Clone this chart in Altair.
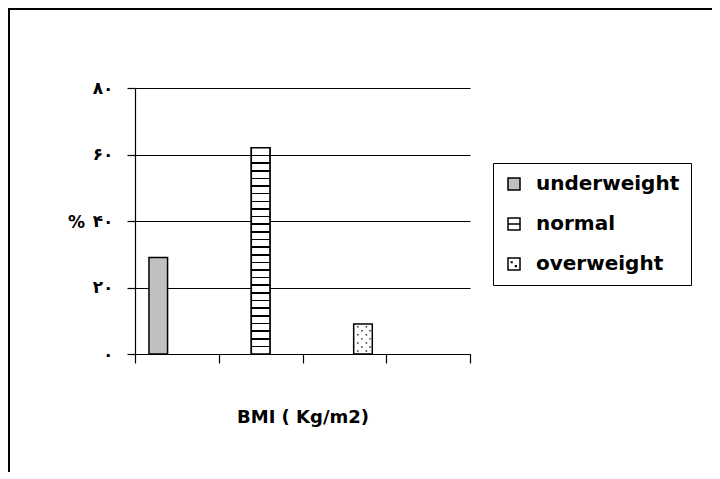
import altair as alt
import pandas as pd

# ---- data ----
categories = ["1", "2", "3", "4"]
series = ["underweight", "normal", "overweight"]
bar_category = ["1", "2", "3"]
bar_series = ["underweight", "normal", "overweight"]
bar_values = [29, 62, 9]
y_ticks = [0, 20, 40, 60, 80]
y_tick_labels = ["۰", "۲۰", "۴۰", "۶۰", "۸۰"]
x_title = "BMI ( Kg/m2)"
y_title = "%"

fills = ["#c0c0c0", "#ffffff", "#ffffff"]
legend_shapes = [
    "square",
    "M-1,-1H1V1H-1ZM-1,0H1",
    "M-1,-1H1V1H-1ZM-0.45,-0.35h0.12v0.12h-0.12ZM0.25,0.3h0.12v0.12h-0.12Z",
]

df = pd.DataFrame({"category": bar_category, "series": bar_series, "value": bar_values})

FONT = "DejaVu Sans"

label_expr = "[" + ",".join("'%s'" % s for s in y_tick_labels) + "][indexof(" + str(y_ticks) + ", datum.value)]"

x_axis = alt.Axis(
    labels=False, title=x_title, tickBand="extent", ticks=True, tickSize=9,
    tickColor="black", tickWidth=1.2, domainColor="black", domainWidth=1.2, grid=False,
    titleY=63, titleBaseline="middle", titleFont=FONT, titleFontSize=18,
    titleFontWeight="bold", titleColor="black",
)
y_axis = alt.Axis(
    values=y_ticks, labelExpr=label_expr, grid=True, gridColor="black", gridWidth=1.2,
    tickSize=8, tickColor="black", tickWidth=1.2, domainColor="black", domainWidth=1.2,
    labelPadding=14, labelFont=FONT, labelFontSize=17, labelFontWeight="bold",
    labelColor="black", title=y_title, titleAngle=0, titleX=-59, titleY=134,
    titleBaseline="middle", titleAlign="center", titleFont=FONT, titleFontSize=17,
    titleFontWeight="bold", titleColor="black",
)
x_scale = alt.Scale(domain=categories, paddingInner=0, paddingOuter=0)
xoff_scale = alt.Scale(domain=series, paddingInner=0, paddingOuter=0.75)
y_scale = alt.Scale(domain=[0, 80], nice=False)


def enc(yfield="value:Q"):
    return dict(
        x=alt.X("category:N", scale=x_scale, axis=x_axis),
        xOffset=alt.XOffset("series:N", scale=xoff_scale),
        y=alt.Y(yfield, scale=y_scale, axis=y_axis),
    )


leg = dict(
    orient="none", legendX=358, legendY=75, title=None, labelFont=FONT, labelFontSize=20,
    labelFontWeight="bold", labelColor="black", symbolSize=144,
    symbolStrokeWidth=1.5, strokeColor="black", padding=11, rowPadding=20,
    labelOffset=12, fillColor="white",
)

# legend carrier: small points hidden inside the bars, legend shows fill + shape
legend_pts = alt.Chart().mark_point(
    filled=True, size=1, opacity=1, strokeWidth=1.5,
).encode(
    fill=alt.Fill("series:N", scale=alt.Scale(domain=series, range=fills), legend=alt.Legend(**leg)),
    shape=alt.Shape("series:N", scale=alt.Scale(domain=series, range=legend_shapes), legend=alt.Legend(**leg)),
    stroke=alt.value("black"),
    **enc("mid:Q"),
).transform_calculate(mid="datum.value / 2")

bars = alt.Chart().mark_bar(stroke="black", strokeWidth=1.5).encode(
    color=alt.Color("series:N", scale=alt.Scale(domain=series, range=fills), legend=None),
    **enc(),
)

# horizontal hatching for the "normal" bar
N = 27
h = 0.0038
stops = [alt.GradientStop(offset=0, color="white")]
for k in range(1, N):
    c = k / N
    stops += [
        alt.GradientStop(offset=c - h, color="white"),
        alt.GradientStop(offset=c - h, color="black"),
        alt.GradientStop(offset=c + h, color="black"),
        alt.GradientStop(offset=c + h, color="white"),
    ]
stops.append(alt.GradientStop(offset=1, color="white"))
stripe_fill = alt.LinearGradient(gradient="linear", stops=stops, x1=0, x2=0, y1=0, y2=1)

stripes = alt.Chart().mark_bar(fill=stripe_fill, stroke="black", strokeWidth=1.5).encode(
    **enc()
).transform_filter(alt.datum.series == "normal")

# dotted texture for the "overweight" bar, drawn as one symbol made of small squares
dot_parts = []
rows_y = [-1.45, -1.0, -0.55, -0.1, 0.35, 0.8, 1.25]
for i, yy in enumerate(rows_y):
    xs = [-0.65, 0.3] if i % 2 == 0 else [-0.2, 0.7]
    for xx in xs:
        dot_parts.append("M%.2f,%.2fh0.16v0.16h-0.16Z" % (xx, yy))
dot_path = "".join(dot_parts)

dots = alt.Chart().mark_point(
    shape=dot_path, size=324, filled=True, fill="#222222", opacity=1,
).encode(
    **enc("mid:Q")
).transform_filter(alt.datum.series == "overweight").transform_calculate(mid="datum.value / 2")

frame_data = alt.Data(values=[{"k": 1}])
border_top = alt.Chart(frame_data).mark_rule(color="black", strokeWidth=2).encode(
    x=alt.value(-127), x2=alt.value(600), y=alt.value(-79),
)
border_left = alt.Chart(frame_data).mark_rule(color="black", strokeWidth=2).encode(
    x=alt.value(-126), y=alt.value(-80), y2=alt.value(400),
)

chart = alt.layer(
    legend_pts, bars, stripes, dots, border_top, border_left, data=df
).properties(
    width=335, height=266,
    padding={"left": 127, "top": 80, "right": 242, "bottom": 118},
    autosize=alt.AutoSizeParams(type="none"),
).configure_view(stroke=None)

chart.save("out.html", embed_options={"renderer": "svg", "actions": False})
